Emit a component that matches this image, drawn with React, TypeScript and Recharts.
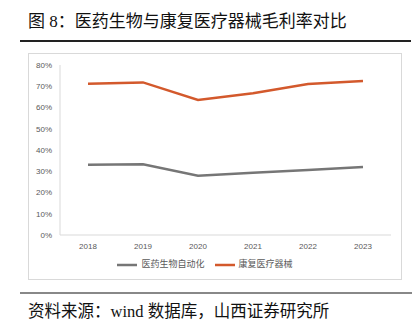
import React from "react";
import { LineChart, Line, XAxis, YAxis, Legend } from "recharts";

const YEARS = ["2018", "2019", "2020", "2021", "2022", "2023"];
const BIO_AUTOMATION = [0.331, 0.333, 0.279, 0.293, 0.306, 0.32];
const REHAB_DEVICES = [0.712, 0.718, 0.635, 0.667, 0.711, 0.725];
const Y_TICKS = [0, 0.1, 0.2, 0.3, 0.4, 0.5, 0.6, 0.7, 0.8];

const data = YEARS.map((year, i) => ({
  year,
  bio: BIO_AUTOMATION[i],
  rehab: REHAB_DEVICES[i],
}));

const AXIS_COLOR = "#d9d9d9";
const TEXT_COLOR = "#595959";
const CHART_FONT = "'Liberation Sans', 'Noto Sans CJK SC', sans-serif";
const PAGE_FONT = "'Liberation Serif', 'Noto Sans CJK SC', serif";

export default function App() {
  return (
    <div
      style={{
        position: "absolute",
        left: 0,
        top: 0,
        width: 415,
        height: 323,
        background: "#fff",
        fontFamily: PAGE_FONT,
        overflow: "hidden",
      }}
    >
      <div
        style={{
          position: "absolute",
          left: 28,
          top: 10,
          fontSize: 17,
          lineHeight: "24px",
          color: "#111",
          whiteSpace: "nowrap",
        }}
      >
        图 8：医药生物与康复医疗器械毛利率对比
      </div>
      <div
        style={{
          position: "absolute",
          left: 20,
          top: 40,
          width: 391,
          height: 1.5,
          background: "#222",
        }}
      />
      <div
        style={{
          position: "absolute",
          left: 28,
          top: 53,
          width: 374,
          height: 227,
          border: "1px solid #d9d9d9",
          boxSizing: "border-box",
        }}
      >
        <LineChart
          width={372}
          height={225}
          data={data}
          margin={{ top: 11, right: 10, bottom: 4, left: 0 }}
          style={{ fontFamily: CHART_FONT }}
        >
          <XAxis
            dataKey="year"
            axisLine={{ stroke: AXIS_COLOR }}
            tickLine={false}
            tick={{ fontSize: 8, fill: TEXT_COLOR }}
            height={20}
            padding={{ left: 28, right: 28 }}
          />
          <YAxis
            domain={[0, 0.8]}
            ticks={Y_TICKS}
            tickFormatter={(v: number) => `${Math.round(v * 100)}%`}
            axisLine={{ stroke: AXIS_COLOR }}
            tickLine={false}
            tick={{ fontSize: 8, fill: TEXT_COLOR }}
            width={31}
          />
          <Legend
            verticalAlign="bottom"
            iconSize={20}
            wrapperStyle={{ fontSize: 9, color: TEXT_COLOR }}
            formatter={(value: string) => (
              <span style={{ color: TEXT_COLOR }}>{value}</span>
            )}
          />
          <Line
            dataKey="bio"
            name="医药生物自动化"
            stroke="#767676"
            strokeWidth={2.5}
            dot={false}
            legendType="plainline"
            isAnimationActive={false}
          />
          <Line
            dataKey="rehab"
            name="康复医疗器械"
            stroke="#d3592c"
            strokeWidth={2.5}
            dot={false}
            legendType="plainline"
            isAnimationActive={false}
          />
        </LineChart>
      </div>
      <div
        style={{
          position: "absolute",
          left: 20,
          top: 292,
          width: 392,
          height: 2,
          background: "#888",
        }}
      />
      <div
        style={{
          position: "absolute",
          left: 28,
          top: 300,
          fontSize: 16.5,
          lineHeight: "24px",
          color: "#111",
          whiteSpace: "nowrap",
        }}
      >
        资料来源：wind 数据库，山西证券研究所
      </div>
    </div>
  );
}
